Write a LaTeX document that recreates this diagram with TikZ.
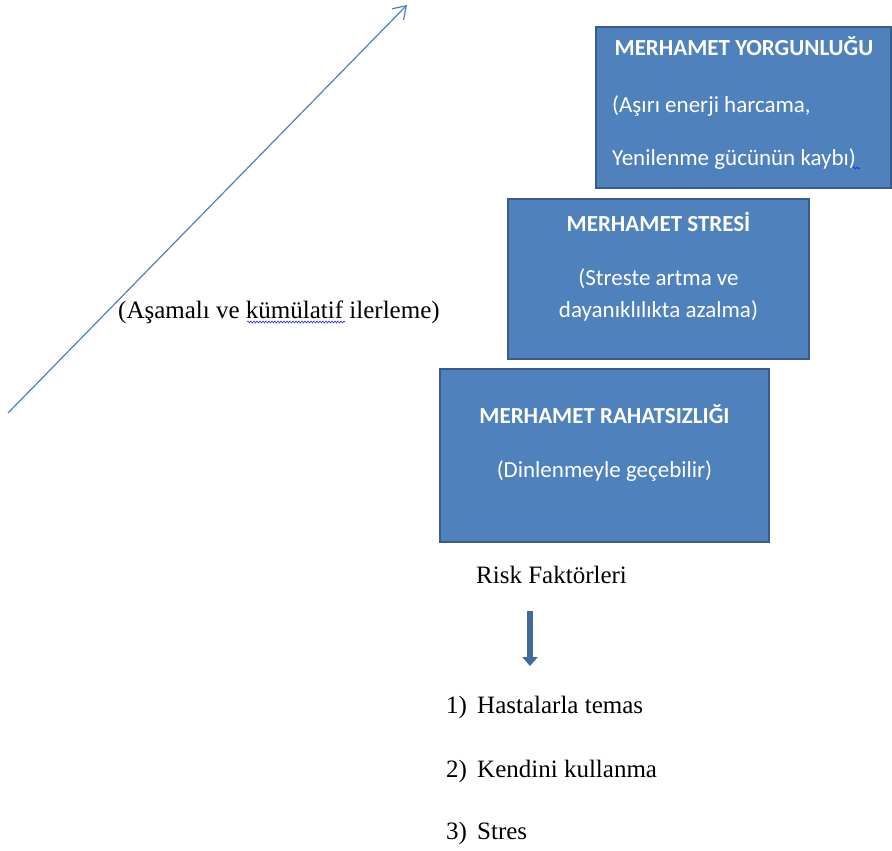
\documentclass[tikz,border=0pt]{standalone}
\usepackage{fontspec}
\setmainfont{Liberation Serif}
\newfontfamily\boxfont{Carlito}
\usetikzlibrary{arrows.meta,decorations.pathmorphing}
\definecolor{boxfill}{HTML}{4F81BD}
\definecolor{boxedge}{HTML}{385D8A}
\definecolor{trend}{HTML}{4F81BD}
\definecolor{riskarrow}{RGB}{65,105,154}
\definecolor{spell}{HTML}{2B2BE0}

\begin{document}
\begin{tikzpicture}[x=1pt,y=-1pt,
  stagebox/.style={draw=boxedge, line width=2.5pt, fill=boxfill, inner sep=0pt, outer sep=0pt},
  boxtitle/.style={text=white, font=\boxfont\bfseries\fontsize{23}{27}\selectfont, inner sep=0pt},
  boxline/.style={text=white, font=\boxfont\fontsize{23}{27}\selectfont, inner sep=0pt},
  serif/.style={font=\fontsize{25}{30}\selectfont, inner sep=0pt},
  spellmark/.style={spell, line width=0.6pt, decorate, decoration={snake, amplitude=1pt, segment length=3pt}},
]
\useasboundingbox (0,0) rectangle (892,851);
\fill[white] (0,0) rectangle (892,851);

% rising trend arrow
\coordinate (trendStart) at (8,413);
\coordinate (trendEnd) at (407,5);
\draw[trend, line width=1.2pt, -{Straight Barb[length=12pt,width=16pt]}] (trendStart) -- (trendEnd);
\node[serif, anchor=base west] (trendlbl) at (118,318) {(Aşamalı ve kümülatif ilerleme)};
\draw[spellmark] (247,322) -- (345,322);

% stage boxes
\node[stagebox, minimum width=295pt, minimum height=161pt] (fatigue) at (743.5,107.5) {};
\node[stagebox, minimum width=301pt, minimum height=160pt] (stress) at (658.5,279) {};
\node[stagebox, minimum width=329pt, minimum height=173pt] (distress) at (604.5,455.5) {};

% fatigue box text
\node[boxtitle, anchor=base] (fatigueT) at (744,56) {MERHAMET YORGUNLUĞU};
\node[boxline, anchor=base west] (fatigueA) at (612,113) {(Aşırı enerji harcama,};
\node[boxline, anchor=base west] (fatigueB) at (612,165) {Yenilenme gücünün kaybı)};
\draw[spellmark] (853,168) -- (860,168);

% stress box text
\node[boxtitle, anchor=base] (stressT) at (658.5,231) {MERHAMET STRESİ};
\node[boxline, anchor=base] (stressA) at (658.5,285) {(Streste artma ve};
\node[boxline, anchor=base] (stressB) at (658.5,317) {dayanıklılıkta azalma)};

% distress box text
\node[boxtitle, anchor=base] (distressT) at (604.5,423) {MERHAMET RAHATSIZLIĞI};
\node[boxline, anchor=base] (distressA) at (604.5,477) {(Dinlenmeyle geçebilir)};

% risk factors
\node[serif, anchor=base west] (risk) at (476,583) {Risk Faktörleri};
\coordinate (riskTop) at (530,611);
\coordinate (riskTip) at (530,666);
\draw[riskarrow, line width=6.5pt, -{Triangle[length=9pt,width=15pt]}] (riskTop) -- (riskTip);

\node[serif, anchor=base west] (n1) at (446,713) {1)};
\node[serif, anchor=base west] (i1) at (477,713) {Hastalarla temas};
\node[serif, anchor=base west] (n2) at (446,777) {2)};
\node[serif, anchor=base west] (i2) at (477,777) {Kendini kullanma};
\node[serif, anchor=base west] (n3) at (446,839) {3)};
\node[serif, anchor=base west] (i3) at (477,839) {Stres};
\end{tikzpicture}
\end{document}
